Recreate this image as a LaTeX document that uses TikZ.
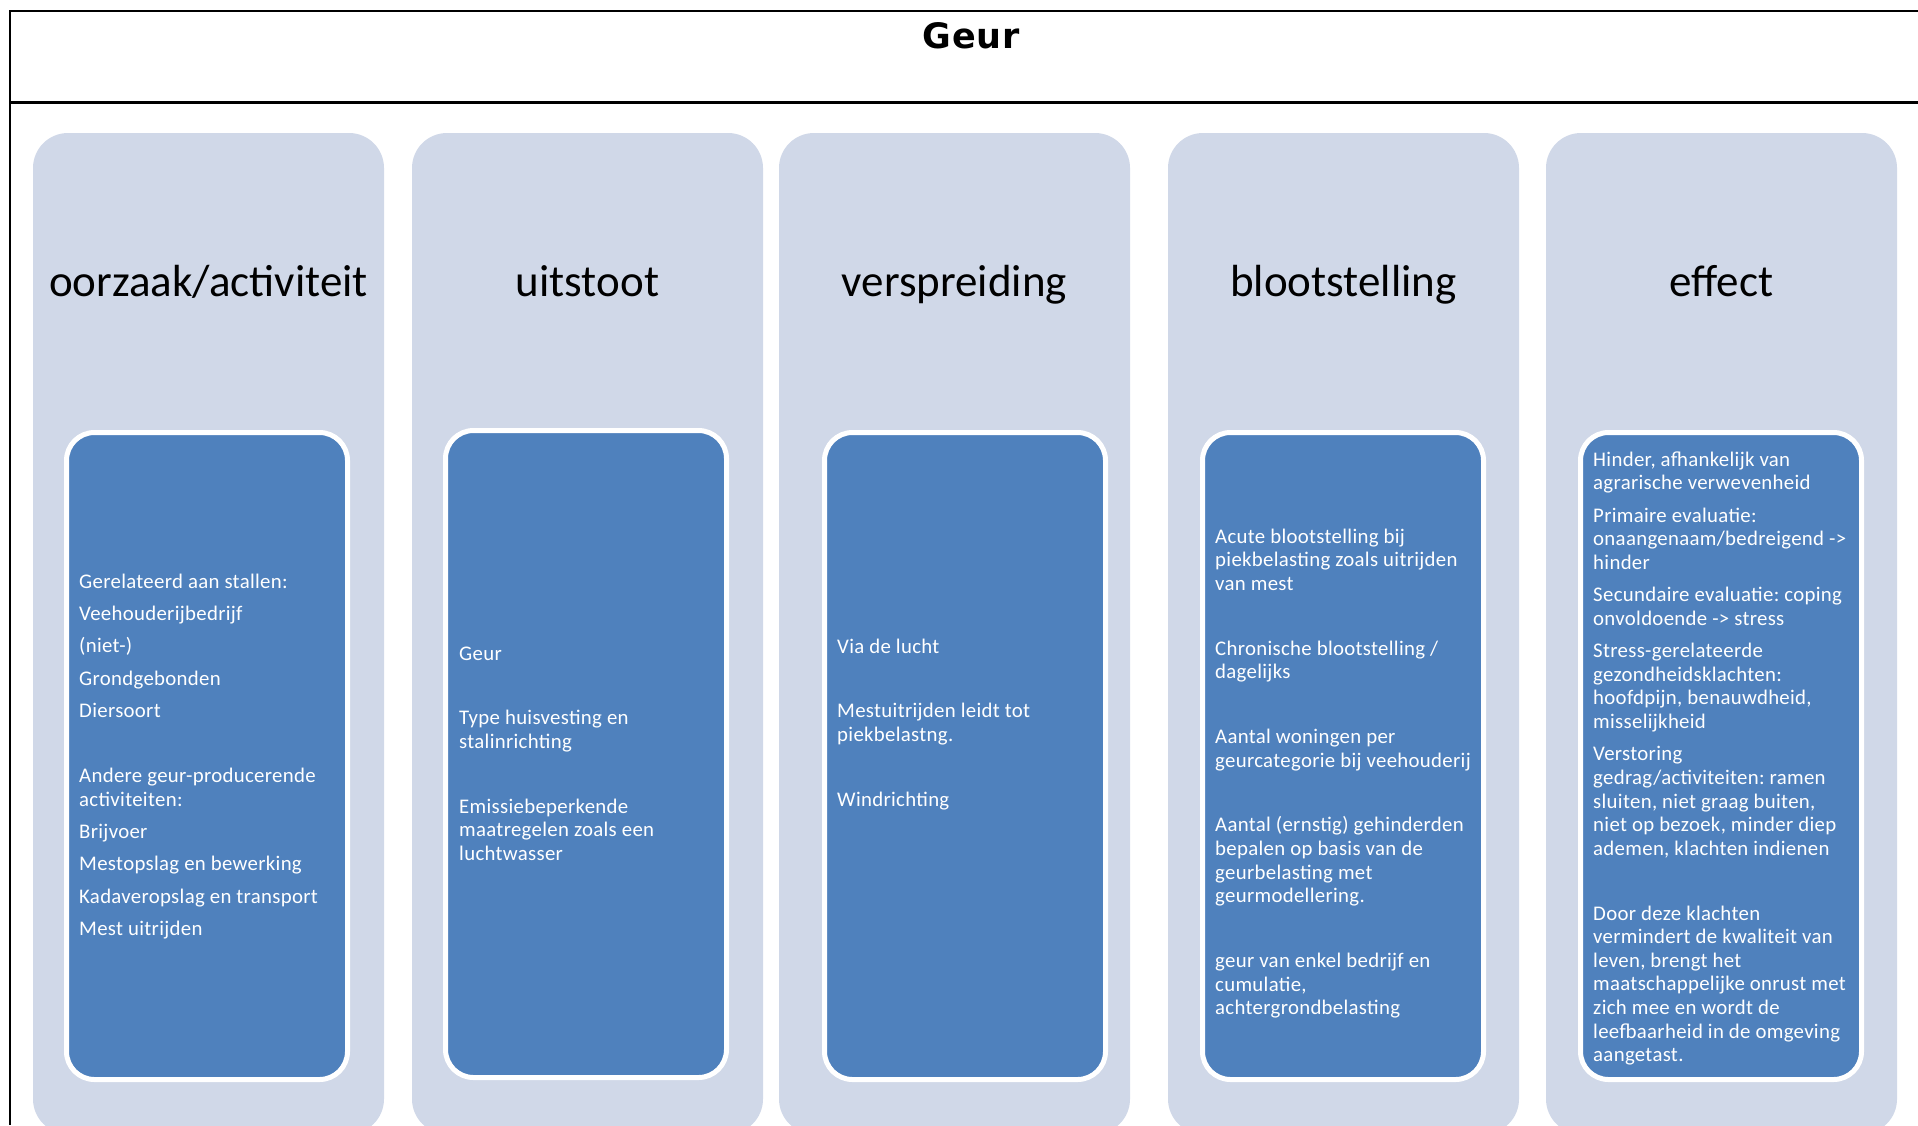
\documentclass[tikz,border=0pt]{standalone}
\usepackage{fontspec}
\setmainfont{Carlito}
\newfontfamily\bodyfont[LetterSpace=1.5]{Carlito}
\newfontfamily\titlefont[LetterSpace=2]{DejaVu Sans}
\definecolor{outerfill}{RGB}{208,216,232}
\definecolor{innerfill}{RGB}{79,129,189}
\frenchspacing
\newcommand{\boxtext}[1]{\parbox[t]{285pt}{\raggedright\bodyfont\fontsize{20.8}{23.6}\selectfont\frenchspacing\setlength{\parskip}{8.8pt}\setlength{\parindent}{0pt}#1}}
\newcommand{\emptypar}{\mbox{}\par}
\tikzset{
  outerbox/.style={rectangle, rounded corners=35pt, fill=outerfill, draw=none, minimum width=351pt, minimum height=1001pt, inner sep=0pt},
  innerbox/.style={rectangle, rounded corners=28pt, fill=innerfill, draw=white, line width=5pt, minimum width=281pt, minimum height=647pt, inner sep=0pt},
  header/.style={anchor=base, inner sep=0pt, font=\fontsize{45}{54}\selectfont, text=black},
  bodytext/.style={anchor=base west, inner sep=0pt, text=white},
  frameline/.style={line width=2.7pt, black}
}
\begin{document}
\begin{tikzpicture}[x=1pt,y=-1pt]
\useasboundingbox (0,0) rectangle (1918,1125);
\clip (0,0) rectangle (1918,1125);
\fill[white] (0,0) rectangle (1918,1125);
% frame
\coordinate (ftr) at (1918,11);
\coordinate (ftl) at (10,11);
\coordinate (fbl) at (10,1125);
\coordinate (fml) at (10,102.5);
\coordinate (fmr) at (1918,102.5);
\draw[frameline] (ftr) -- (ftl) -- (fbl);
\draw[frameline] (fml) -- (fmr);
\node[anchor=base, inner sep=0pt, font=\titlefont\bfseries\fontsize{35}{40}\selectfont] (title) at (971,48) {Geur};
% outer boxes
\node[outerbox] (o1) at (208.5,633.5) {};
\node[outerbox] (o2) at (587.5,633.5) {};
\node[outerbox] (o3) at (954.5,633.5) {};
\node[outerbox] (o4) at (1343.5,633.5) {};
\node[outerbox] (o5) at (1721.5,633.5) {};
% headers
\node[header] (h1) at (208.5,296) {oorzaak/activiteit};
\node[header] (h2) at (587.5,296) {uitstoot};
\node[header] (h3) at (954.5,296) {verspreiding};
\node[header] (h4) at (1343.5,296) {blootstelling};
\node[header] (h5) at (1721.5,296) {effect};
% inner boxes
\node[innerbox] (i1) at (207,756) {};
\node[innerbox] (i2) at (586,754) {};
\node[innerbox] (i3) at (965,756) {};
\node[innerbox] (i4) at (1343,756) {};
\node[innerbox] (i5) at (1721,756) {};
% texts
\node[bodytext] (t1) at (79,588) {\boxtext{%
Gerelateerd aan stallen:\par
Veehouderijbedrijf\par
(niet-)\par
Grondgebonden\par
Diersoort\par
\emptypar
Andere geur-producerende\newline activiteiten:\par
Brijvoer\par
Mestopslag en bewerking\par
Kadaveropslag en transport\par
Mest uitrijden}};
\node[bodytext] (t2) at (459,660) {\boxtext{%
Geur\par
\emptypar
Type huisvesting en\newline stalinrichting\par
\emptypar
Emissiebeperkende\newline maatregelen zoals een\newline luchtwasser}};
\node[bodytext] (t3) at (837,653) {\boxtext{%
Via de lucht\par
\emptypar
Mestuitrijden leidt tot\newline piekbelastng.\par
\emptypar
Windrichting}};
\node[bodytext] (t4) at (1215,543) {\boxtext{%
Acute blootstelling bij\newline piekbelasting zoals uitrijden\newline van mest\par
\emptypar
Chronische blootstelling /\newline dagelijks\par
\emptypar
Aantal woningen per\newline geurcategorie bij veehouderij\par
\emptypar
Aantal (ernstig) gehinderden\newline bepalen op basis van de\newline geurbelasting met\newline geurmodellering.\par
\emptypar
geur van enkel bedrijf en\newline cumulatie,\newline achtergrondbelasting}};
\node[bodytext] (t5) at (1593,466) {\boxtext{%
Hinder, afhankelijk van\newline agrarische verwevenheid\par
Primaire evaluatie:\newline onaangenaam/bedreigend ->\newline hinder\par
Secundaire evaluatie: coping\newline onvoldoende -> stress\par
Stress-gerelateerde\newline gezondheidsklachten:\newline hoofdpijn, benauwdheid,\newline misselijkheid\par
Verstoring\newline gedrag/activiteiten: ramen\newline sluiten, niet graag buiten,\newline niet op bezoek, minder diep\newline ademen, klachten indienen\par
\emptypar
Door deze klachten\newline vermindert de kwaliteit van\newline leven, brengt het\newline maatschappelijke onrust met\newline zich mee en wordt de\newline leefbaarheid in de omgeving\newline aangetast.}};
\end{tikzpicture}
\end{document}
